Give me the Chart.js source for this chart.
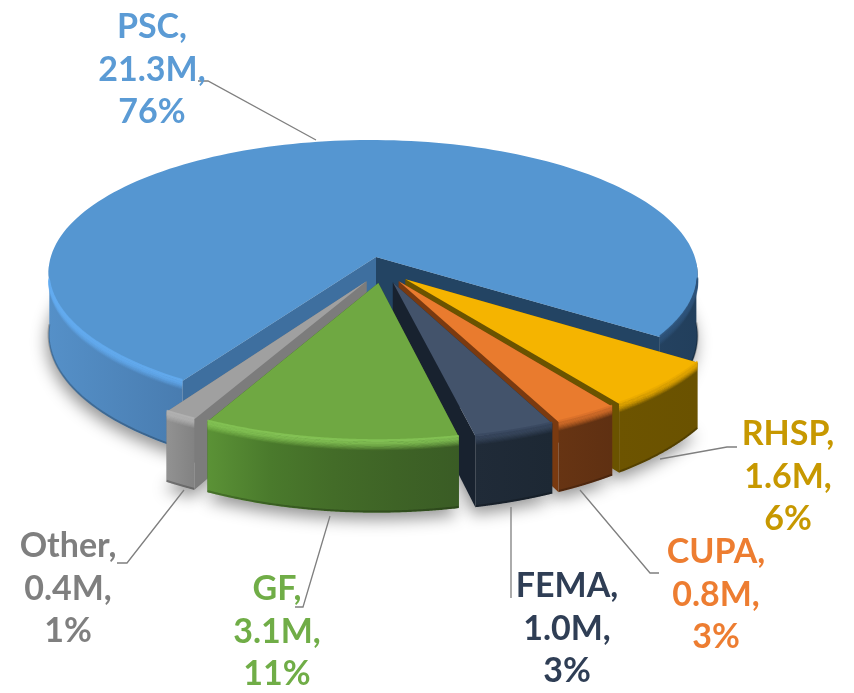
<!DOCTYPE html>
<html>
<head>
<meta charset="utf-8">
<style>
  html, body { margin: 0; background: #fff; }
  canvas { display: block; }
</style>
<script src="https://cdn.jsdelivr.net/npm/chart.js@4"></script>
</head>
<body>
<canvas id="fundingChart" width="854" height="693"></canvas>
<script>
// chart values
const categories = ["PSC", "RHSP", "CUPA", "FEMA", "GF", "Other"];
const amounts = [21.3, 1.6, 0.8, 1.0, 3.1, 0.4];
const percents = [76, 6, 3, 3, 11, 1];

// slice styles, same order as categories
const topColors = ["#5596d1", "#f5b400", "#e97b2e", "#43536b", "#6fa842", "#a0a0a0"];
const labelColors = ["#5b9bd5", "#c79800", "#ed7d31", "#2f3e55", "#70ad47", "#7f7f7f"];
const bevelColors = ["#62abf0", "#e8aa00", "#d9702a", "#3a4960", "#86c556", "#b4b4b4"];
const wallColors = [
    ["#5590c8", "#4678ab", "#3a6490", "#2a4a6c", "#223f5c"],
    ["#6d5400", "#6a5200"],
    ["#673413", "#5f3012"],
    ["#202b38", "#1d2834"],
    ["#5b9236", "#4a7a2c", "#436c28", "#3e6326", "#3a5c25"],
    ["#929292", "#828282"],
];
const sideStartColors = ["#3e6f9f", "#6a5300", "#7a3a10", "#18222f", "#3a5c25", "#7c7c7c"];
const sideEndColors = ["#234463", "#6a5300", "#7a3a10", "#18222f", "#3a5c25", "#7c7c7c"];
const paintOrder = [0, 1, 5, 2, 3, 4];

// pie placement: PSC tip on screen, radii, perspective, thickness, explosion
const view = { ox: 376, oy: 257, sx: 322, sy: 131.5, k: 0.124, m: -0.01, shear: 3, depth: 61, explode: 0.098 };

// label text boxes and leader lines (label centre x, first baseline y)
const labelSpots = [[152, 38], [788, 445], [716, 563], [567, 597], [277, 600], [68, 557]];
const leaders = [
    [[198, 81], [208, 81], [316, 140]],
    [[660, 459], [727, 447], [737, 447]],
    [[580, 490], [650, 573], [659, 573]],
    [[511, 507], [511, 598]],
    [[330, 516], [303, 607], [295, 607]],
    [[184, 490], [127, 563], [117, 563]],
];

function project(u, v, z) {
    const w = 1 / (1 - view.k * v - view.m * u);
    return {
        x: view.ox + (view.sx * u + view.shear * v) * w,
        y: view.oy + view.sy * v * w + (z || 0) * w,
    };
}

function fillPoly(ctx, pts, style) {
    ctx.beginPath();
    pts.forEach((p, i) => (i ? ctx.lineTo(p.x, p.y) : ctx.moveTo(p.x, p.y)));
    ctx.closePath();
    ctx.fillStyle = style;
    ctx.fill();
}

function strokeLine(ctx, pts) {
    ctx.beginPath();
    pts.forEach((p, i) => (i ? ctx.lineTo(p.x, p.y) : ctx.moveTo(p.x, p.y)));
    ctx.stroke();
}

function sideGradient(ctx, pts, colors) {
    const xs = pts.map((p) => p.x);
    const g = ctx.createLinearGradient(Math.min(...xs), 0, Math.max(...xs), 0);
    colors.forEach((c, i) => g.addColorStop(i / (colors.length - 1), c));
    return g;
}

// splits the arc into the stretches that face the viewer
function frontRuns(angles, limit) {
    const runs = [];
    let run = null;
    angles.forEach((t) => {
        if (Math.sin(t) > limit) {
            if (!run) {
                run = [];
                runs.push(run);
            }
            run.push(t);
        } else {
            run = null;
        }
    });
    return runs;
}

// turns the library's arc elements into the tilted, exploded 3D slices
const pie3d = {
    id: "pie3d",
    beforeDatasetsDraw(chart) {
        const ctx = chart.ctx;
        const arcs = chart.getDatasetMeta(0).data.map((a) => a.getProps(["startAngle", "endAngle"], true));
        const mid = (a) => (a.startAngle + a.endAngle) / 2;
        const base = mid(arcs[0]);

        const slices = arcs.map((a) => {
            const su = view.explode * (Math.cos(mid(a)) - Math.cos(base));
            const sv = view.explode * (Math.sin(mid(a)) - Math.sin(base));
            const rim = (t, z) => project(su + Math.cos(t), sv + Math.sin(t), z);
            const tip = (z) => project(su, sv, z);
            const angles = [];
            for (let i = 0; i <= 160; i++) {
                angles.push(a.startAngle + ((a.endAngle - a.startAngle) * i) / 160);
            }
            return { a, rim, tip, angles };
        });

        // soft ground shadow first
        ctx.save();
        ctx.shadowColor = "rgba(0,0,0,0.42)";
        ctx.shadowBlur = 16;
        ctx.shadowOffsetX = -2;
        ctx.shadowOffsetY = 7;
        slices.forEach((s) => {
            fillPoly(ctx, [s.tip(view.depth), ...s.angles.map((t) => s.rim(t, view.depth))], "#cfcfcf");
        });
        ctx.restore();

        paintOrder.forEach((i) => {
            const s = slices[i];
            const rimTop = s.angles.map((t) => s.rim(t, 0));
            const wall = sideGradient(ctx, rimTop, wallColors[i]);

            // cut faces
            const start = s.a.startAngle;
            const end = s.a.endAngle;
            fillPoly(ctx, [s.tip(0), s.rim(start, 0), s.rim(start, view.depth), s.tip(view.depth)], sideStartColors[i]);
            fillPoly(ctx, [s.tip(0), s.rim(end, 0), s.rim(end, view.depth), s.tip(view.depth)], sideEndColors[i]);

            // outer wall, with a dark edge along its foot
            frontRuns(s.angles, 0.02).forEach((run) => {
                const upper = run.map((t) => s.rim(t, 0));
                const lower = run.map((t) => s.rim(t, view.depth));
                fillPoly(ctx, [...upper, ...lower.slice().reverse()], wall);
                ctx.save();
                ctx.lineWidth = 2;
                ctx.strokeStyle = "rgba(0,0,0,0.22)";
                strokeLine(ctx, run.map((t) => s.rim(t, view.depth - 1)));
                ctx.restore();
            });

            // top face
            fillPoly(ctx, [s.tip(0), ...rimTop], topColors[i]);

            // bevel highlight on the near rim
            ctx.save();
            ctx.lineJoin = "round";
            ctx.lineWidth = 1.6;
            let bevel = bevelColors[i];
            if (i === 0) {
                // PSC rim only catches light on its left side
                bevel = ctx.createLinearGradient(48, 0, 697, 0);
                bevel.addColorStop(0, bevelColors[0]);
                bevel.addColorStop(0.5, bevelColors[0]);
                bevel.addColorStop(0.85, "#2d5279");
                bevel.addColorStop(1, "#2d5279");
            }
            ctx.strokeStyle = bevel;
            frontRuns(s.angles, 0.14).forEach((run) => {
                for (let z = 7; z >= -1; z--) {
                    ctx.globalAlpha = z <= 2 ? 0.8 : 0.8 * (1 - (z - 2) / 6);
                    strokeLine(ctx, run.map((t) => s.rim(t, z)));
                }
            });
            ctx.restore();
        });
        return false;
    },
    afterDraw(chart) {
        const ctx = chart.ctx;
        ctx.save();
        ctx.strokeStyle = "#7f7f7f";
        ctx.lineWidth = 1.3;
        leaders.forEach((line) => strokeLine(ctx, line.map(([x, y]) => ({ x, y }))));

        ctx.font = "bold 34px Lato, 'Open Sans', sans-serif";
        ctx.textAlign = "center";
        ctx.textBaseline = "alphabetic";
        categories.forEach((name, i) => {
            const lines = [name + ",", amounts[i].toFixed(1) + "M,", percents[i] + "%"];
            ctx.fillStyle = labelColors[i];
            lines.forEach((text, n) => ctx.fillText(text, labelSpots[i][0], labelSpots[i][1] + n * 42.5));
        });
        ctx.restore();
    },
};

new Chart(document.getElementById("fundingChart"), {
    type: "pie",
    data: {
        labels: categories,
        datasets: [
            {
                data: amounts,
                backgroundColor: topColors,
                borderWidth: 0,
            },
        ],
    },
    options: {
        responsive: false,
        animation: false,
        rotation: -147.1,
        plugins: {
            legend: { display: false },
            tooltip: { enabled: false },
        },
    },
    plugins: [pie3d],
});
</script>
</body>
</html>
